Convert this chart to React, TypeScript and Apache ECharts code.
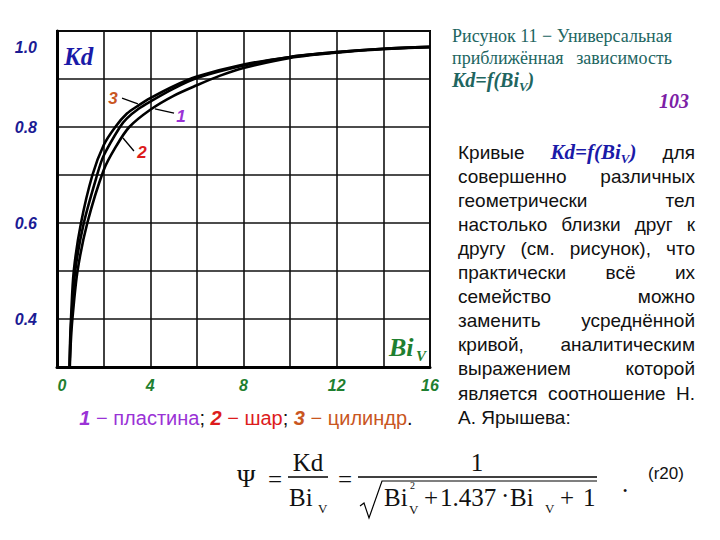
import React, { useEffect, useRef } from "react";
import * as echarts from "echarts";

// ---------- data ----------
const biTicks = [0, 4, 8, 12, 16];
const kdTicks = [0.4, 0.6, 0.8, 1.0];

// curve 1 – plate (middle line)
const bi1 = [0.54, 0.57, 0.62, 0.78, 1.15, 1.72, 2.0, 2.7, 3.0, 3.5, 4.0, 5.0, 6.0, 8.0, 10, 12, 14, 16];
const kd1 = [0.3, 0.35, 0.4, 0.5, 0.6, 0.7, 0.74, 0.8, 0.818, 0.838, 0.853, 0.88, 0.902, 0.928, 0.946, 0.956, 0.963, 0.967];
// curve 2 – sphere (inner line)
const bi2 = [0.55, 0.59, 0.66, 0.88, 1.3, 2.0, 2.5, 3.1, 4.0, 5.0, 6.0, 7.0, 8.0, 10, 12, 14, 16];
const kd2 = [0.3, 0.35, 0.4, 0.5, 0.6, 0.71, 0.757, 0.8, 0.836, 0.865, 0.887, 0.907, 0.923, 0.944, 0.955, 0.962, 0.966];
// curve 3 – cylinder (outer line)
const bi3 = [0.54, 0.56, 0.6, 0.72, 1.03, 1.52, 2.0, 2.5, 3.0, 3.5, 4.0, 5.0, 6.0, 8.0, 10, 12, 14, 16];
const kd3 = [0.3, 0.35, 0.4, 0.5, 0.6, 0.7, 0.762, 0.8, 0.828, 0.845, 0.86, 0.885, 0.905, 0.93, 0.946, 0.956, 0.963, 0.967];

const curveLabels = ["1", "2", "3"];
const legendNames = ["пластина", "шар", "цилиндр"];
const curveColors = ["#9a32d6", "#dd1c1c", "#c9561f"];

// label anchors (data coords) and leader lines
const labelAt: number[][] = [
  [5.32, 0.821],
  [3.65, 0.746],
  [2.4, 0.86],
];
const leaderFrom: number[][] = [
  [5.02, 0.829],
  [3.3, 0.75],
  [2.79, 0.86],
];
const leaderTo: number[][] = [
  [4.2, 0.838],
  [2.83, 0.777],
  [3.47, 0.848],
];

const titleLines = ["Рисунок 11 − Универсальная", "приближённая зависимость"];
const pageNumber = "103";
const paragraph = [
  "Кривые @KD для",
  "совершенно различных",
  "геометрически тел",
  "настолько близки друг к",
  "другу (см. рисунок), что",
  "практически всё их",
  "семейство можно",
  "заменить усреднённой",
  "кривой, аналитическим",
  "выражением которой",
  "является соотношение Н.",
  "А. Ярышева:",
];

const SANS = '"Liberation Sans", Arial, sans-serif';
const SERIF = '"Liberation Serif", "Times New Roman", serif';

const NAVY = "#1b1b94";
const KDBLUE = "#1a1aa8";
const GREEN = "#1f7f30";
const TEAL = "#21655f";

type Piece = { t: string; font: string; fill: string; dy?: number };

let ctx: CanvasRenderingContext2D | null = null;
function tw(t: string, font: string): number {
  if (!ctx) ctx = document.createElement("canvas").getContext("2d");
  if (!ctx) return t.length * 8;
  ctx.font = font;
  return ctx.measureText(t).width;
}
function pw(ps: Piece[]): number {
  return ps.reduce((s, p) => s + tw(p.t, p.font), 0);
}
function txt(t: string, x: number, y: number, font: string, fill: string, align = "left", va = "middle") {
  return {
    type: "text",
    x,
    y,
    silent: true,
    style: { text: t, font, fill, align, textAlign: align, verticalAlign: va, textVerticalAlign: va },
  };
}
function putPieces(ps: Piece[], x: number, y: number, out: any[]): number {
  let cx = x;
  ps.forEach((p) => {
    out.push(txt(p.t, cx, y + (p.dy || 0), p.font, p.fill));
    cx += tw(p.t, p.font);
  });
  return cx;
}
function line(x1: number, y1: number, x2: number, y2: number, w = 1.3) {
  return { type: "line", silent: true, shape: { x1, y1, x2, y2 }, style: { stroke: "#000", lineWidth: w } };
}

function kdWord(size: number, sub: number, color: string): Piece[] {
  return [
    { t: "Kd=f(Bi", font: `italic bold ${size}px ${SERIF}`, fill: color },
    { t: "V", font: `italic bold ${sub}px ${SERIF}`, fill: color, dy: size * 0.3 },
    { t: ")", font: `italic bold ${size}px ${SERIF}`, fill: color },
  ];
}

function justify(words: Piece[][], L: number, R: number, y: number, minGap: number, out: any[]) {
  const tot = words.reduce((s, w) => s + pw(w), 0);
  const gap = words.length < 2 ? 0 : Math.max(minGap, (R - L - tot) / (words.length - 1));
  let cx = L;
  words.forEach((w) => {
    putPieces(w, cx, y, out);
    cx += pw(w) + gap;
  });
}

function buildGraphics(chart: any): any[] {
  const els: any[] = [];
  const px = (p: number[]) => chart.convertToPixel({ gridIndex: 0 }, p) as number[];

  // axis titles
  els.push(txt("Kd", 64, 56, `italic bold 25px ${SERIF}`, KDBLUE));
  els.push(txt("Bi", 389, 347, `italic bold 26px ${SERIF}`, GREEN));
  els.push(txt("V", 416, 356, `italic bold 15px ${SERIF}`, GREEN));

  // curve labels with leaders
  curveLabels.forEach((c, i) => {
    const a = px(leaderFrom[i]);
    const b = px(leaderTo[i]);
    els.push(line(a[0], a[1], b[0], b[1], 1.3));
    const l = px(labelAt[i]);
    els.push(txt(c, l[0], l[1], `italic bold 17px ${SANS}`, curveColors[i], "center"));
  });

  // legend line under chart
  const lf = `20px ${SANS}`;
  const lb = `italic bold 20px ${SANS}`;
  const leg: Piece[] = [];
  curveLabels.forEach((c, i) => {
    leg.push({ t: c, font: lb, fill: curveColors[i] });
    leg.push({ t: " − " + legendNames[i], font: lf, fill: curveColors[i] });
    leg.push({ t: i < curveLabels.length - 1 ? "; " : ".", font: lf, fill: "#111" });
  });
  const lw = pw(leg);
  putPieces(leg, 246 - lw / 2, 418, els);

  // title block (justified)
  const tf = `18px ${SERIF}`;
  const TL = 452,
    TR = 672;
  titleLines.forEach((ln, i) => {
    const words = ln.split(" ").map((w) => [{ t: w, font: tf, fill: TEAL }]);
    justify(words, TL, TR, 36 + i * 22, tw(" ", tf), els);
  });
  putPieces(kdWord(20, 13, TEAL), TL, 80, els);
  els.push(txt(pageNumber, 689, 101, `italic bold 20px ${SERIF}`, "#7c1ea6", "right"));

  // paragraph (justified)
  const pf = `19px ${SANS}`;
  const PL = 458,
    PR = 695;
  paragraph.forEach((ln, i) => {
    const y = 152 + i * 24.1;
    const words: Piece[][] = ln
      .split(" ")
      .map((w) => (w === "@KD" ? kdWord(21, 13, KDBLUE) : [{ t: w, font: pf, fill: "#111" }]));
    const last = i === paragraph.length - 1;
    if (last) {
      putPieces([{ t: ln, font: pf, fill: "#111" }], PL, y, els);
    } else {
      justify(words, PL, PR, y, tw(" ", pf), els);
    }
  });

  // formula
  const ff = `25px ${SERIF}`;
  const fs = `13px ${SERIF}`;
  els.push(txt("Ψ", 237, 478, ff, "#111"));
  els.push(txt("=", 268, 479, ff, "#111"));
  els.push(txt("Kd", 308, 462, ff, "#111", "center"));
  els.push(line(288, 477, 328, 477, 1.3));
  els.push(txt("Bi", 289, 497, ff, "#111"));
  els.push(txt("V", 318, 508, fs, "#111"));
  els.push(txt("=", 338, 479, ff, "#111"));
  els.push(txt("1", 477, 462, ff, "#111", "center"));
  els.push(line(358, 477, 597, 477, 1.3));
  els.push({
    type: "polyline",
    silent: true,
    shape: {
      points: [
        [360, 506],
        [364, 503],
        [369, 518],
        [382, 481],
        [597, 481],
      ],
    },
    style: { stroke: "#000", lineWidth: 1.2, fill: null },
  });
  els.push(txt("Bi", 384, 497, ff, "#111"));
  els.push(txt("2", 410, 485, `10px ${SERIF}`, "#111"));
  els.push(txt("V", 409, 509, fs, "#111"));
  els.push(txt("+", 424, 497, ff, "#111"));
  els.push(txt("1.437", 440, 497, ff, "#111"));
  els.push(txt("·", 501, 495, ff, "#111"));
  els.push(txt("Bi", 510, 497, ff, "#111"));
  els.push(txt("V", 545, 508, fs, "#111"));
  els.push(txt("+", 560, 497, ff, "#111"));
  els.push(txt("1", 583, 497, ff, "#111"));
  els.push(txt(".", 622, 483, ff, "#111"));
  els.push(txt("(r20)", 648, 473, `17px ${SANS}`, "#111"));

  return els;
}

export default function App() {
  const ref = useRef<HTMLDivElement>(null);
  useEffect(() => {
    if (!ref.current) return;
    const chart = echarts.init(ref.current, null, { renderer: "svg", width: 720, height: 540 });
    const mk = (bi: number[], kd: number[]) => bi.map((b, i) => [b, kd[i]]);
    const yLabel = {
      color: NAVY,
      fontSize: 16,
      fontWeight: "bold" as const,
      fontStyle: "italic" as const,
      fontFamily: SANS,
    };
    const xLabel = {
      color: GREEN,
      fontSize: 16,
      fontWeight: "bold" as const,
      fontStyle: "italic" as const,
      fontFamily: SANS,
    };
    chart.setOption({
      animation: false,
      backgroundColor: "#fff",
      grid: {
        left: 57,
        top: 31,
        width: 373,
        height: 336,
        show: true,
        borderColor: "#000",
        borderWidth: 2,
        backgroundColor: "transparent",
      },
      xAxis: {
        type: "value",
        min: 0,
        max: 16,
        interval: 2,
        axisLine: { show: true, onZero: false, lineStyle: { color: "#000", width: 3 } },
        axisTick: { show: false },
        splitLine: { show: true, lineStyle: { color: "#111", width: 1.6 } },
        axisLabel: {
          margin: 10,
          ...xLabel,
          formatter: (v: number) => {
            const r = Math.round(v);
            if (biTicks.indexOf(r) < 0) return "";
            return r === 0 ? "{z|0}" : String(r);
          },
          rich: { z: { ...xLabel, padding: [0, 0, 0, 10] } },
        },
      },
      yAxis: {
        type: "value",
        min: 0.3,
        max: 1.0,
        interval: 0.1,
        axisLine: { show: true, onZero: false, lineStyle: { color: "#000", width: 3 } },
        axisTick: { show: false },
        splitLine: { show: true, lineStyle: { color: "#111", width: 1.6 } },
        axisLabel: {
          margin: 20,
          ...yLabel,
          formatter: (v: number) => {
            const k = Math.round(v * 10) / 10;
            if (!kdTicks.some((t) => Math.abs(t - k) < 1e-6)) return "";
            if (Math.abs(k - 1) < 1e-6) return "{top|" + k.toFixed(1) + "}";
            return k.toFixed(1);
          },
          rich: { top: { ...yLabel, padding: [32, 0, 0, 0] } },
        },
      },
      series: [
        [bi1, kd1],
        [bi2, kd2],
        [bi3, kd3],
      ].map(([b, k], i) => ({
        name: curveLabels[i],
        type: "line",
        data: mk(b, k),
        showSymbol: false,
        smooth: 0.3,
        lineStyle: { color: "#000", width: 2.6 },
        z: 3,
      })),
    });
    chart.setOption({ graphic: { elements: buildGraphics(chart) } });
    return () => chart.dispose();
  }, []);
  return (
    <div
      ref={ref}
      style={{ position: "absolute", left: 0, top: 0, width: 720, height: 540, background: "#fff" }}
    />
  );
}
